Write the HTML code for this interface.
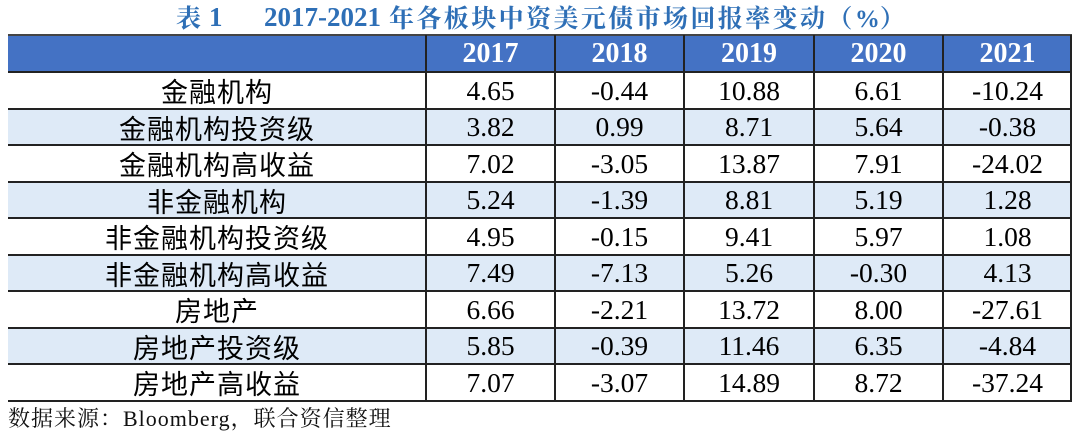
<!DOCTYPE html>
<html>
<head>
<meta charset="utf-8">
<style>
  html,body{margin:0;padding:0;background:#fff;}
  body{width:1080px;height:435px;position:relative;overflow:hidden;}
  .t{position:absolute;white-space:nowrap;}
  .title{color:#2E6FB6;font-weight:bold;line-height:30px;top:2px;}
  .cjk{font-family:"Noto Serif CJK SC","Liberation Serif",serif;font-size:25px;}
  .ser{font-family:"Liberation Serif",serif;font-size:27px;}
  .cell{position:absolute;display:flex;align-items:center;justify-content:center;white-space:nowrap;}
  .num{font-family:"Liberation Serif",serif;font-size:27.5px;color:#000;}
  .lab{font-family:"Liberation Sans","Noto Sans CJK SC",sans-serif;font-size:27px;color:#000;letter-spacing:1px;}
  .hd{font-family:"Liberation Serif",serif;font-weight:bold;font-size:28px;color:#fff;}
  .foot{font-size:22px;line-height:26px;color:#111;left:8px;top:406px;}
</style>
</head>
<body>
<!-- title -->
<div class="t title cjk" style="left:176px;">表</div>
<div class="t title ser" style="left:209px;">1</div>
<div class="t title ser" style="left:264px;">2017-2021</div>
<div class="t title cjk" style="left:389px;letter-spacing:2.4px;">年各板块中资美元债市场回报率变动（<span class="ser" style="letter-spacing:0;font-size:25px;">%</span>）</div>

<!-- fills & lines -->
<svg width="1080" height="435" style="position:absolute;left:0;top:0;">
  <rect x="8" y="35" width="1064" height="37" fill="#4472C4"/>
  <rect x="8" y="109" width="1064" height="36" fill="#DEEAF7"/>
  <rect x="8" y="182" width="1064" height="36" fill="#DEEAF7"/>
  <rect x="8" y="255" width="1064" height="36" fill="#DEEAF7"/>
  <rect x="8" y="328" width="1064" height="36" fill="#DEEAF7"/>
  <g stroke="#222" stroke-width="2">
    <line x1="8" y1="35" x2="1072" y2="35" stroke="#444"/>
    <line x1="8" y1="72" x2="1072" y2="72"/>
    <line x1="8" y1="109" x2="1072" y2="109"/>
    <line x1="8" y1="145" x2="1072" y2="145"/>
    <line x1="8" y1="182" x2="1072" y2="182"/>
    <line x1="8" y1="218" x2="1072" y2="218"/>
    <line x1="8" y1="255" x2="1072" y2="255"/>
    <line x1="8" y1="291" x2="1072" y2="291"/>
    <line x1="8" y1="328" x2="1072" y2="328"/>
    <line x1="8" y1="364" x2="1072" y2="364"/>
    <line x1="8" y1="401" x2="1072" y2="401"/>
    <line x1="426" y1="35" x2="426" y2="401"/>
    <line x1="555" y1="35" x2="555" y2="401"/>
    <line x1="684" y1="35" x2="684" y2="401"/>
    <line x1="814" y1="35" x2="814" y2="401"/>
    <line x1="943" y1="35" x2="943" y2="401"/>
    <line x1="1071" y1="35" x2="1071" y2="401"/>
  </g>
</svg>

<!-- header -->
<div class="cell hd" style="left:426px;top:36px;width:129px;height:36px;">2017</div>
<div class="cell hd" style="left:555px;top:36px;width:129px;height:36px;">2018</div>
<div class="cell hd" style="left:684px;top:36px;width:130px;height:36px;">2019</div>
<div class="cell hd" style="left:814px;top:36px;width:129px;height:36px;">2020</div>
<div class="cell hd" style="left:943px;top:36px;width:129px;height:36px;">2021</div>

<!-- rows -->
<div class="cell lab" style="left:8px;top:72px;width:418px;height:37px;">金融机构</div>
<div class="cell num" style="left:426px;top:72px;width:129px;height:37px;">4.65</div>
<div class="cell num" style="left:555px;top:72px;width:129px;height:37px;">-0.44</div>
<div class="cell num" style="left:684px;top:72px;width:130px;height:37px;">10.88</div>
<div class="cell num" style="left:814px;top:72px;width:129px;height:37px;">6.61</div>
<div class="cell num" style="left:943px;top:72px;width:129px;height:37px;">-10.24</div>

<div class="cell lab" style="left:8px;top:109px;width:418px;height:36px;">金融机构投资级</div>
<div class="cell num" style="left:426px;top:109px;width:129px;height:36px;">3.82</div>
<div class="cell num" style="left:555px;top:109px;width:129px;height:36px;">0.99</div>
<div class="cell num" style="left:684px;top:109px;width:130px;height:36px;">8.71</div>
<div class="cell num" style="left:814px;top:109px;width:129px;height:36px;">5.64</div>
<div class="cell num" style="left:943px;top:109px;width:129px;height:36px;">-0.38</div>

<div class="cell lab" style="left:8px;top:145px;width:418px;height:37px;">金融机构高收益</div>
<div class="cell num" style="left:426px;top:145px;width:129px;height:37px;">7.02</div>
<div class="cell num" style="left:555px;top:145px;width:129px;height:37px;">-3.05</div>
<div class="cell num" style="left:684px;top:145px;width:130px;height:37px;">13.87</div>
<div class="cell num" style="left:814px;top:145px;width:129px;height:37px;">7.91</div>
<div class="cell num" style="left:943px;top:145px;width:129px;height:37px;">-24.02</div>

<div class="cell lab" style="left:8px;top:182px;width:418px;height:36px;">非金融机构</div>
<div class="cell num" style="left:426px;top:182px;width:129px;height:36px;">5.24</div>
<div class="cell num" style="left:555px;top:182px;width:129px;height:36px;">-1.39</div>
<div class="cell num" style="left:684px;top:182px;width:130px;height:36px;">8.81</div>
<div class="cell num" style="left:814px;top:182px;width:129px;height:36px;">5.19</div>
<div class="cell num" style="left:943px;top:182px;width:129px;height:36px;">1.28</div>

<div class="cell lab" style="left:8px;top:218px;width:418px;height:37px;">非金融机构投资级</div>
<div class="cell num" style="left:426px;top:218px;width:129px;height:37px;">4.95</div>
<div class="cell num" style="left:555px;top:218px;width:129px;height:37px;">-0.15</div>
<div class="cell num" style="left:684px;top:218px;width:130px;height:37px;">9.41</div>
<div class="cell num" style="left:814px;top:218px;width:129px;height:37px;">5.97</div>
<div class="cell num" style="left:943px;top:218px;width:129px;height:37px;">1.08</div>

<div class="cell lab" style="left:8px;top:255px;width:418px;height:36px;">非金融机构高收益</div>
<div class="cell num" style="left:426px;top:255px;width:129px;height:36px;">7.49</div>
<div class="cell num" style="left:555px;top:255px;width:129px;height:36px;">-7.13</div>
<div class="cell num" style="left:684px;top:255px;width:130px;height:36px;">5.26</div>
<div class="cell num" style="left:814px;top:255px;width:129px;height:36px;">-0.30</div>
<div class="cell num" style="left:943px;top:255px;width:129px;height:36px;">4.13</div>

<div class="cell lab" style="left:8px;top:291px;width:418px;height:37px;">房地产</div>
<div class="cell num" style="left:426px;top:291px;width:129px;height:37px;">6.66</div>
<div class="cell num" style="left:555px;top:291px;width:129px;height:37px;">-2.21</div>
<div class="cell num" style="left:684px;top:291px;width:130px;height:37px;">13.72</div>
<div class="cell num" style="left:814px;top:291px;width:129px;height:37px;">8.00</div>
<div class="cell num" style="left:943px;top:291px;width:129px;height:37px;">-27.61</div>

<div class="cell lab" style="left:8px;top:328px;width:418px;height:36px;">房地产投资级</div>
<div class="cell num" style="left:426px;top:328px;width:129px;height:36px;">5.85</div>
<div class="cell num" style="left:555px;top:328px;width:129px;height:36px;">-0.39</div>
<div class="cell num" style="left:684px;top:328px;width:130px;height:36px;">11.46</div>
<div class="cell num" style="left:814px;top:328px;width:129px;height:36px;">6.35</div>
<div class="cell num" style="left:943px;top:328px;width:129px;height:36px;">-4.84</div>

<div class="cell lab" style="left:8px;top:364px;width:418px;height:37px;">房地产高收益</div>
<div class="cell num" style="left:426px;top:364px;width:129px;height:37px;">7.07</div>
<div class="cell num" style="left:555px;top:364px;width:129px;height:37px;">-3.07</div>
<div class="cell num" style="left:684px;top:364px;width:130px;height:37px;">14.89</div>
<div class="cell num" style="left:814px;top:364px;width:129px;height:37px;">8.72</div>
<div class="cell num" style="left:943px;top:364px;width:129px;height:37px;">-37.24</div>

<!-- footer -->
<div class="t foot" style="font-family:'Liberation Serif','Noto Serif CJK SC',serif;letter-spacing:1px;">数据来源：Bloomberg，联合资信整理</div>
</body>
</html>
